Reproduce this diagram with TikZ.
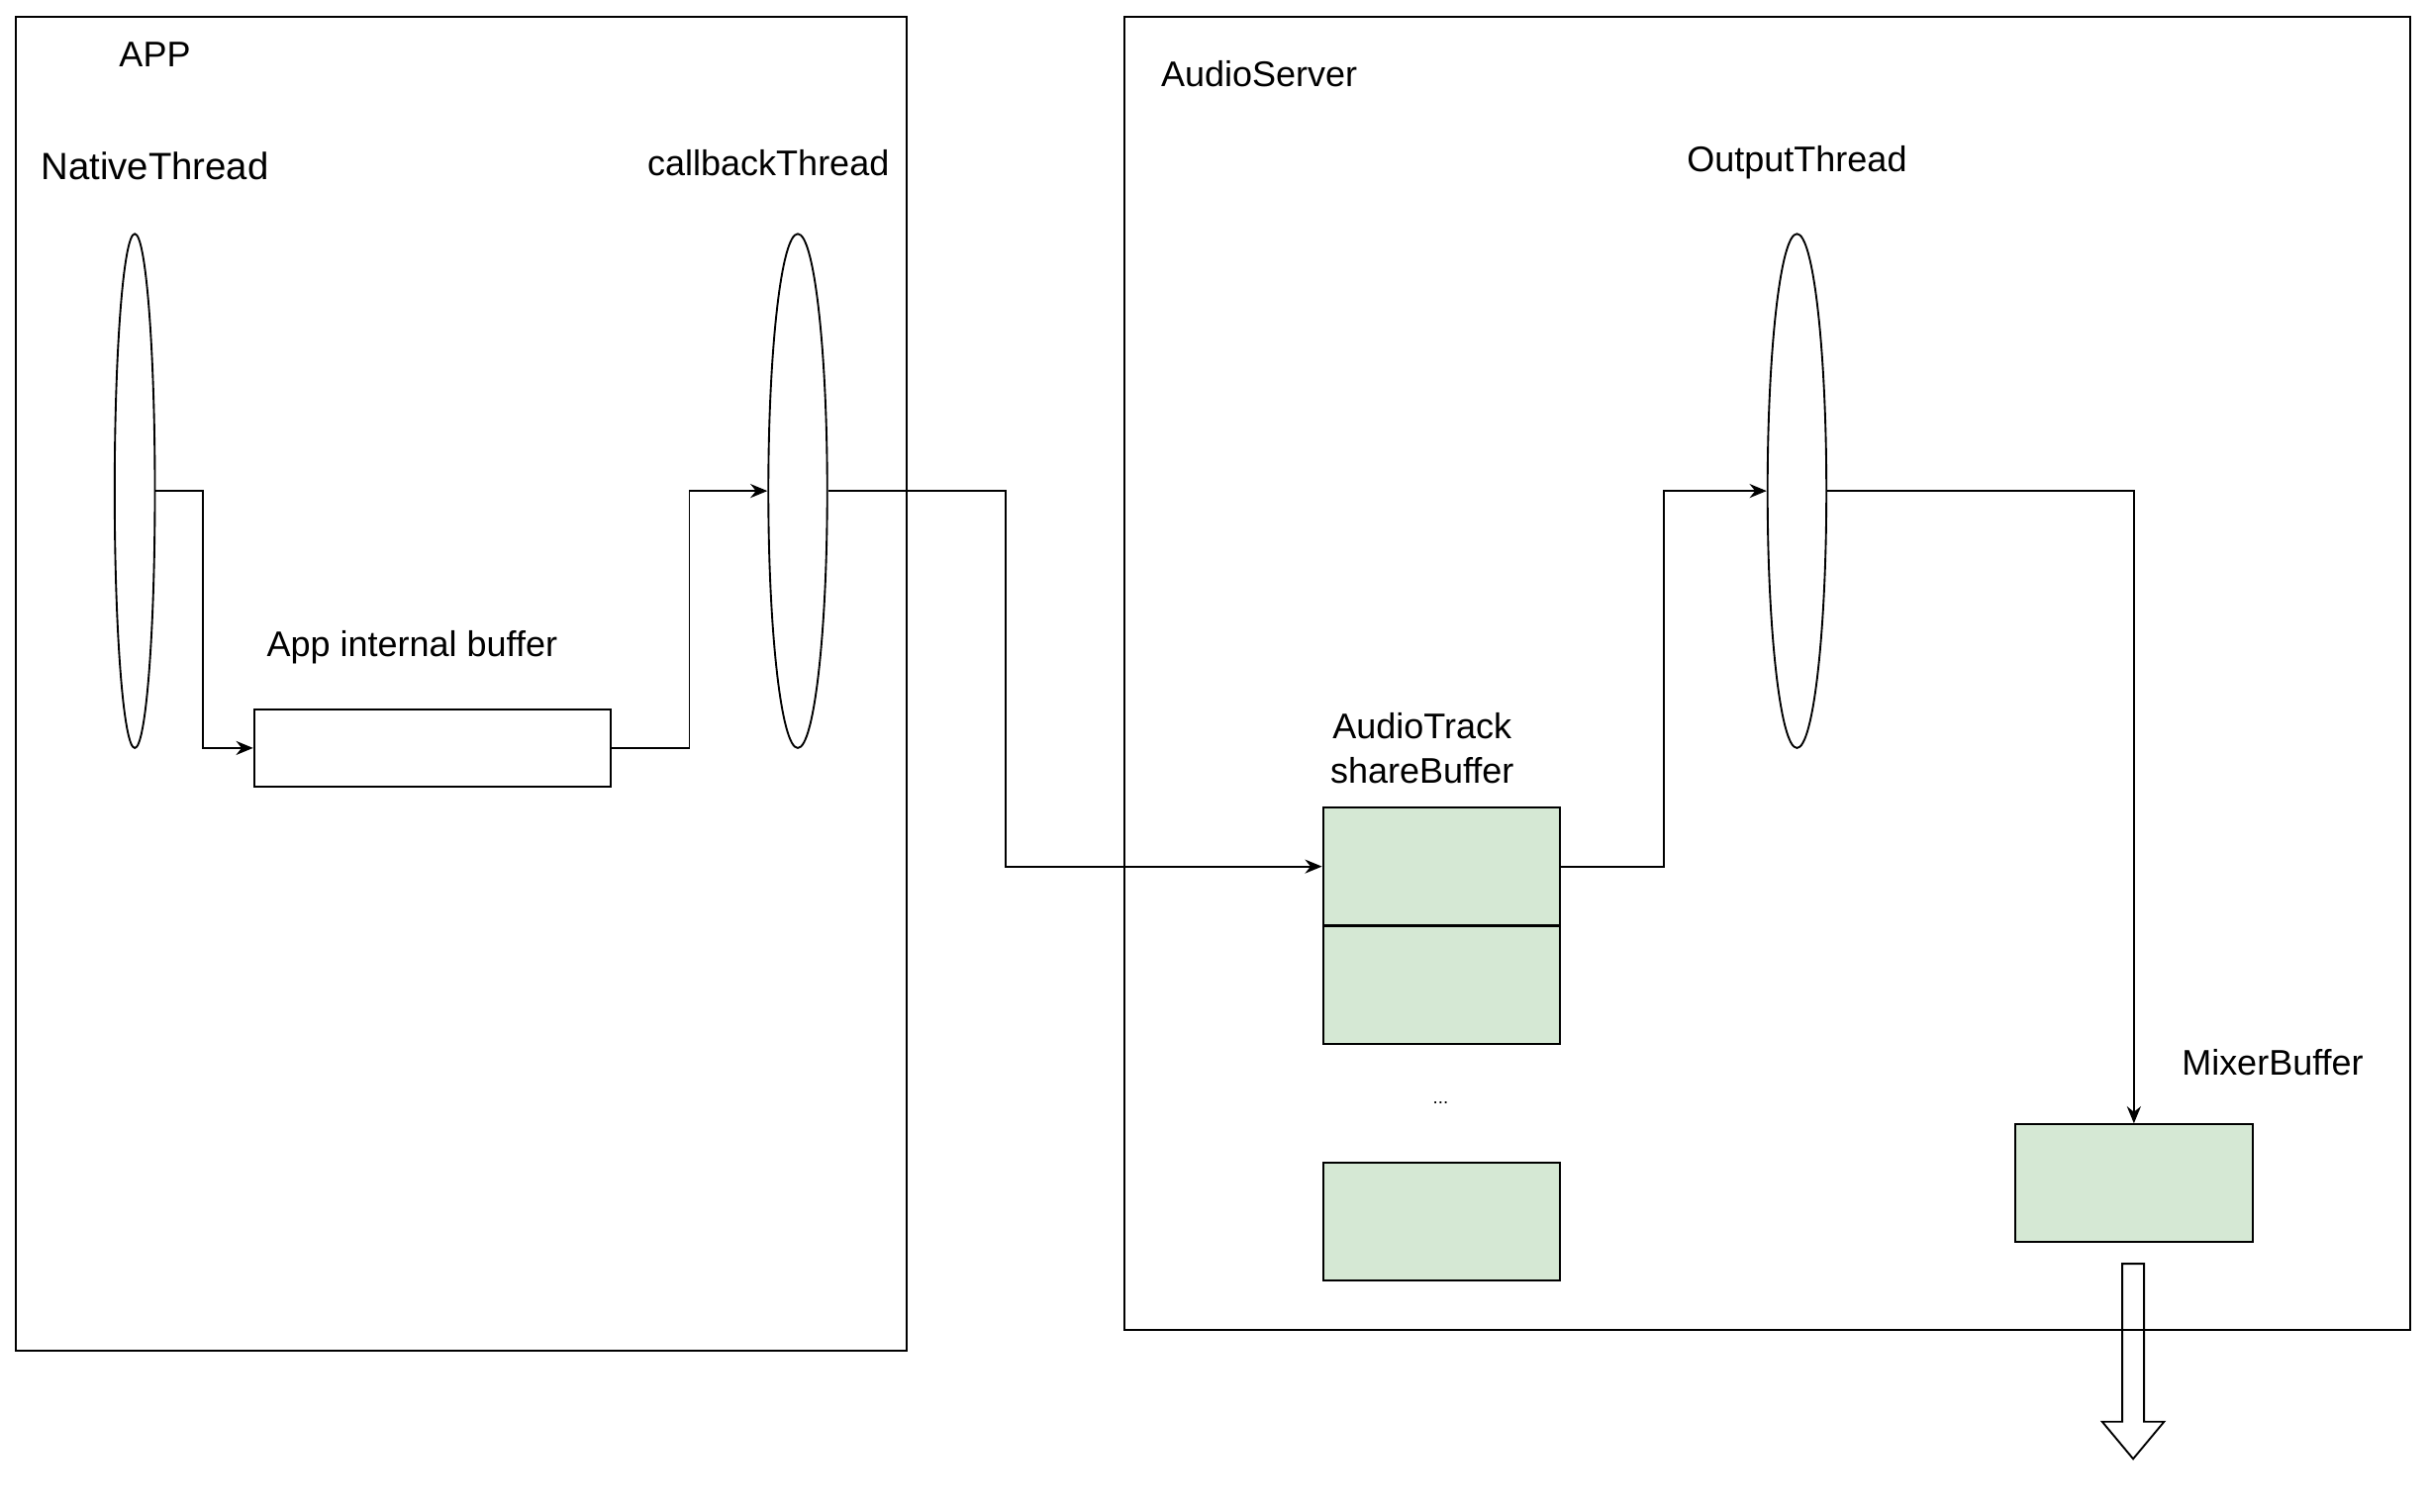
\documentclass[tikz,border=0pt]{standalone}
\usepackage{fontspec}
\setmainfont{Liberation Sans}
\usetikzlibrary{shapes.geometric,arrows.meta}
\definecolor{gf}{HTML}{D5E8D4}
\begin{document}
\begin{tikzpicture}[x=1pt,y=-1pt,line width=1.2pt,
  lbl/.style={font=\fontsize{23}{27}\selectfont,inner sep=0pt},
  th/.style={draw,ellipse,inner sep=0pt},
  buf/.style={draw,fill=gf,minimum width=153pt,minimum height=76pt,inner sep=0pt},
  conn/.style={-{Stealth[length=11pt,width=9pt]}}]
\useasboundingbox (0,0) rectangle (1568,976);
\node[draw,minimum width=575pt,minimum height=861pt,inner sep=0pt] (app) at (297.5,441.5) {};
\node[draw,minimum width=830pt,minimum height=848pt,inner sep=0pt] (as) at (1141,435) {};
\node[lbl] (tapp) at (100,35) {APP};
\node[lbl,anchor=west] (tas) at (749,48) {AudioServer};
\node[lbl,font=\fontsize{24.5}{28}\selectfont] (tnt) at (100,107) {NativeThread};
\node[lbl] (tcb) at (496,105) {callbackThread};
\node[lbl] (tot) at (1160,105) {OutputThread};
\node[lbl] (tib) at (266,418) {App internal buffer};
\node[lbl,align=center,font=\fontsize{23}{29}\selectfont] (tsb) at (918,483) {AudioTrack\\shareBuffer};
\node[lbl] (tmb) at (1467,686) {MixerBuffer};
\node[th,minimum width=26pt,minimum height=332pt] (nt) at (87,317) {};
\node[th,minimum width=38pt,minimum height=332pt] (cb) at (515,317) {};
\node[th,minimum width=38pt,minimum height=332pt] (ot) at (1160,317) {};
\node[draw,minimum width=230pt,minimum height=50pt,inner sep=0pt] (ib) at (279,483) {};
\node[buf] (s1) at (930.5,559.5) {};
\node[buf] (s2) at (930.5,636) {};
\node[buf] (s3) at (930.5,789) {};
\node[font=\fontsize{12}{14}\selectfont] (dots) at (930,712) {...};
\node[buf] (mb) at (1377.5,764) {};
\draw[conn] (nt.east) -- (131,317) |- (ib.west);
\draw[conn] (ib.east) -- (445,483) |- (cb.west);
\draw[conn] (cb.east) -- (649,317) |- (s1.west);
\draw[conn] (s1.east) -- (1074,559.5) |- (ot.west);
\draw[conn] (ot.east) -| (mb.north);
\draw (1370,816) -- (1384,816) -- (1384,918) -- (1397,918) -- (1377,942) -- (1357,918) -- (1370,918) -- cycle;
\end{tikzpicture}
\end{document}
